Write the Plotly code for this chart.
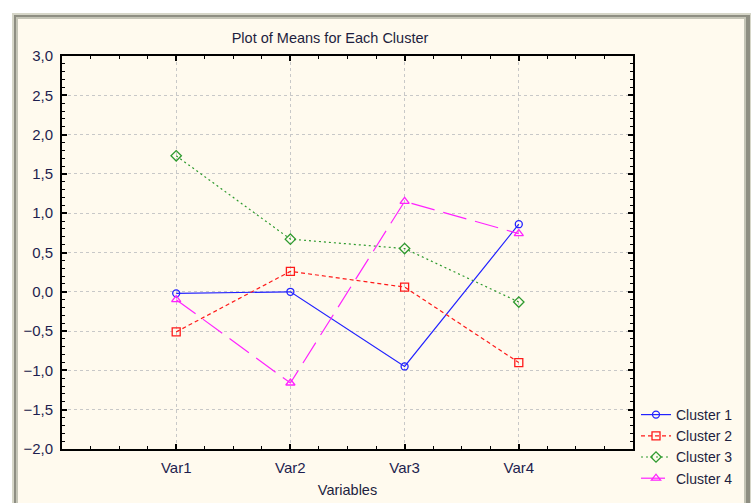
import plotly.graph_objects as go

variables = ["Var1", "Var2", "Var3", "Var4"]
x_pos = [1, 2, 3, 4]
cluster1 = [-0.02, 0.00, -0.95, 0.86]
cluster2 = [-0.51, 0.26, 0.06, -0.90]
cluster3 = [1.73, 0.67, 0.55, -0.13]
cluster4 = [-0.10, -1.16, 1.15, 0.74]
names = ["Cluster 1", "Cluster 2", "Cluster 3", "Cluster 4"]

W, H = 751, 503
L, R, T, B = 62, 633, 56, 449


def px(p):
    return (p - L) / (R - L)


def py(q):
    return (B - q) / (B - T)


styles = [
    dict(color="#2222ff", dash="solid", symbol="circle-open", size=7),
    dict(color="#ff1a1a", dash="4px,3px", symbol="square-open", size=8),
    dict(color="#2e9a2e", dash="2px,3px", symbol="diamond-open", size=8),
    dict(color="#ff22ff", dash="24px,9px", symbol="triangle-up-open", size=8),
]

fig = go.Figure()
for name, ys, st in zip(names, [cluster1, cluster2, cluster3, cluster4], styles):
    fig.add_trace(go.Scatter(
        x=x_pos, y=ys, name=name, mode="lines+markers",
        line=dict(color=st["color"], width=1.2, dash=st["dash"]),
        marker=dict(symbol=st["symbol"], size=st["size"], color=st["color"],
                    line=dict(width=1.3, color=st["color"])),
    ))

beige = "#fffaee"
shapes = [
    dict(type="rect", xref="paper", yref="paper", x0=px(12), x1=px(760), y0=py(13), y1=py(520),
         fillcolor="#d6d6c8", line=dict(width=0), layer="below"),
    dict(type="rect", xref="paper", yref="paper", x0=px(14), x1=px(750), y0=py(15), y1=py(520),
         fillcolor="#8e8e82", line=dict(width=0), layer="below"),
    dict(type="rect", xref="paper", yref="paper", x0=px(16), x1=px(746), y0=py(17), y1=py(520),
         fillcolor="#c4c4b6", line=dict(width=0), layer="below"),
    dict(type="rect", xref="paper", yref="paper", x0=px(18), x1=px(744), y0=py(19), y1=py(520),
         fillcolor=beige, line=dict(width=0), layer="below"),
]

FONT = "Liberation Sans, Arial, sans-serif"
tickfont = dict(family=FONT, size=15, color="#1e1e4e")
textfont = dict(family=FONT, size=14.5, color="#1e1e3e")
legendfont = dict(family=FONT, size=14, color="#1e1e3e")

fig.update_layout(
    width=W, height=H,
    margin=dict(l=L, r=W - R, t=T, b=H - B, pad=0, autoexpand=False),
    paper_bgcolor="white",
    plot_bgcolor="white",
    separators=", ",
    shapes=shapes,
    showlegend=True,
    title=dict(text="Plot of Means for Each Cluster", x=330 / W, xref="container", xanchor="center",
               y=1 - 38 / H, yref="container", yanchor="middle", font=textfont),
    legend=dict(xref="container", yref="container", x=636 / W, y=1 - 399 / H,
                xanchor="left", yanchor="top", bgcolor="rgba(0,0,0,0)",
                font=legendfont, tracegroupgap=0, itemwidth=30),
    xaxis=dict(
        range=[0, 5], tickmode="array", tickvals=x_pos, ticktext=variables, automargin=False,
        showgrid=True, gridcolor="#c8c8c8", griddash="dot", gridwidth=1,
        zeroline=False, showline=True, linecolor="black", linewidth=2, mirror="ticks",
        ticks="inside", ticklen=5, tickwidth=1.5, tickcolor="black",
        minor=dict(dtick=0.25, tick0=0, ticks="inside", ticklen=3, tickwidth=1, tickcolor="black", showgrid=False),
        tickfont=tickfont, ticklabelstandoff=4,
        title=dict(text="Variables", standoff=10, font=textfont),
    ),
    yaxis=dict(
        range=[-2, 3], tickmode="linear", tick0=-2, dtick=0.5, tickformat=".1f", automargin=False,
        showgrid=True, gridcolor="#c8c8c8", griddash="dot", gridwidth=1,
        zeroline=False, showline=True, linecolor="black", linewidth=2, mirror="ticks",
        ticks="inside", ticklen=5, tickwidth=1.5, tickcolor="black",
        minor=dict(dtick=0.1, tick0=0, ticks="inside", ticklen=3, tickwidth=1, tickcolor="black", showgrid=False),
        tickfont=tickfont, ticklabelstandoff=4,
    ),
)

fig.write_html("out.html", config={"displayModeBar": False},
               post_script="document.body.style.margin='0';document.body.style.overflow='hidden';")
